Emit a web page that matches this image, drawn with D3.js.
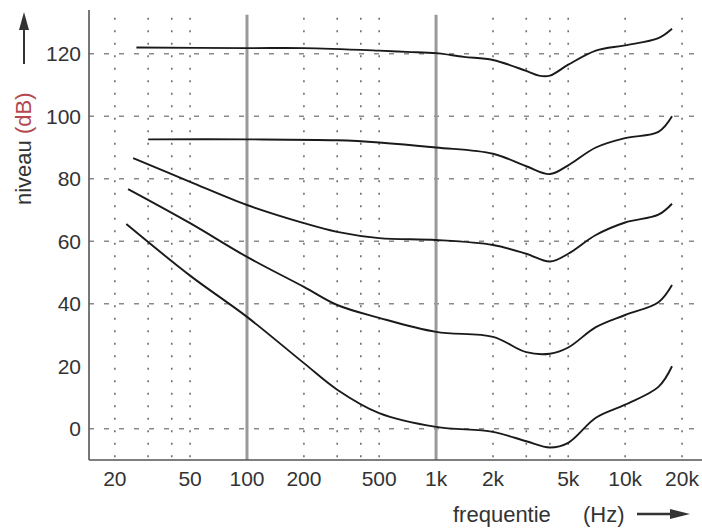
<!DOCTYPE html>
<html>
<head>
<meta charset="utf-8">
<script src="https://cdn.jsdelivr.net/npm/d3@7"></script>
<style>
  html, body { margin: 0; padding: 0; background: #fff; }
  svg { display: block; font-family: "Liberation Sans", Arial, sans-serif; }
</style>
</head>
<body>
<div id="chart"></div>
<script>
// equal-loudness contours
const freqTicks = [20, 50, 100, 200, 500, 1000, 2000, 5000, 10000, 20000];
const freqTickLabels = ['20', '50', '100', '200', '500', '1k', '2k', '5k', '10k', '20k'];
const dottedFreqs = [20, 30, 40, 50, 200, 300, 400, 500, 2000, 3000, 4000, 5000, 10000, 20000];
const solidFreqs = [100, 1000];
const levelTicks = [0, 20, 40, 60, 80, 100, 120];
const dashedLevels = [0, 40, 60, 80, 100, 120];

const curve120Freq = [26, 100, 200, 500, 700, 1000, 1400, 2000, 3000, 3500, 4000, 5000, 7000, 10000, 15000, 17700];
const curve120 = [122, 121.8, 121.8, 121, 120.6, 120.2, 119, 118, 114.5, 113, 113, 116.5, 121, 122.7, 125, 128];

const curve90Freq = [30, 100, 300, 500, 1000, 2000, 3000, 4000, 5000, 7000, 10000, 15000, 17700];
const curve90 = [92.6, 92.6, 92.3, 91.6, 90, 88, 84, 81.5, 84.3, 90, 93, 95, 100];

const curve60Freq = [25, 50, 100, 200, 300, 500, 1000, 2000, 3000, 4000, 5000, 7000, 10000, 15000, 17700];
const curve60 = [86.6, 79, 71.6, 65.8, 63, 61, 60.4, 58.8, 56, 53.5, 56, 62, 66, 68.5, 72];

const curve30Freq = [23.5, 50, 100, 200, 300, 500, 1000, 2000, 3000, 4000, 5000, 7000, 10000, 15000, 17700];
const curve30 = [76.7, 65.8, 55, 45.4, 39.6, 35.5, 31, 29.4, 24.5, 24, 26, 32.5, 36.4, 40.5, 46];

const curve0Freq = [23, 50, 100, 200, 300, 500, 1000, 2000, 3000, 4000, 5000, 7000, 10000, 15000, 17700];
const curve0 = [65.5, 49, 35.8, 21, 12.5, 5, 0.6, -1, -4, -6, -4.5, 3.5, 7.7, 13.4, 20];

const curves = [
  [curve120Freq, curve120],
  [curve90Freq, curve90],
  [curve60Freq, curve60],
  [curve30Freq, curve30],
  [curve0Freq, curve0]
];

const W = 702, H = 528;
const plot = { left: 89, right: 702, top: 10, bottom: 460 };

const svg = d3.select('#chart').append('svg')
  .attr('width', W)
  .attr('height', H)
  .attr('viewBox', [0, 0, W, H]);

const x = d3.scaleLog().domain([14.6, 25500]).range([plot.left, plot.right]);
const y = d3.scaleLinear().domain([-10, 134]).range([plot.bottom, plot.top]);
const gridTop = y(131.5);

// grid
const grid = svg.append('g');

grid.selectAll('line.hdash')
  .data(dashedLevels)
  .join('line')
  .attr('class', 'hdash')
  .attr('x1', plot.left).attr('x2', plot.right)
  .attr('y1', d => y(d)).attr('y2', d => y(d))
  .attr('stroke', '#8a8a8a')
  .attr('stroke-width', 1.3)
  .attr('stroke-dasharray', '5,10');

grid.selectAll('line.vdot')
  .data(dottedFreqs)
  .join('line')
  .attr('class', 'vdot')
  .attr('x1', d => x(d)).attr('x2', d => x(d))
  .attr('y1', gridTop).attr('y2', plot.bottom)
  .attr('stroke', '#6e6e6e')
  .attr('stroke-width', 1.6)
  .attr('stroke-dasharray', '2,10.5');

grid.selectAll('line.vsolid')
  .data(solidFreqs)
  .join('line')
  .attr('class', 'vsolid')
  .attr('x1', d => x(d)).attr('x2', d => x(d))
  .attr('y1', gridTop - 3).attr('y2', plot.bottom)
  .attr('stroke', '#9a9a9a')
  .attr('stroke-width', 3);

// axes lines
svg.append('line')
  .attr('x1', plot.left).attr('x2', plot.left)
  .attr('y1', plot.top).attr('y2', plot.bottom)
  .attr('stroke', '#555').attr('stroke-width', 1.6);
svg.append('line')
  .attr('x1', plot.left).attr('x2', plot.right)
  .attr('y1', plot.bottom).attr('y2', plot.bottom)
  .attr('stroke', '#555').attr('stroke-width', 1.6);

// tick labels
svg.append('g')
  .selectAll('text')
  .data(levelTicks)
  .join('text')
  .attr('x', 81)
  .attr('y', d => y(d))
  .attr('dy', '0.36em')
  .attr('text-anchor', 'end')
  .attr('font-size', 21)
  .attr('fill', '#333')
  .text(d => d);

svg.append('g')
  .selectAll('text')
  .data(freqTicks)
  .join('text')
  .attr('x', d => x(d))
  .attr('y', 486)
  .attr('text-anchor', 'middle')
  .attr('font-size', 21)
  .attr('fill', '#333')
  .text((d, i) => freqTickLabels[i]);

// contours
const line = d3.line()
  .x(d => x(d[0]))
  .y(d => y(d[1]))
  .curve(d3.curveCatmullRom.alpha(0.5));

svg.append('g')
  .selectAll('path')
  .data(curves)
  .join('path')
  .attr('d', c => line(c[0].map((f, i) => [f, c[1][i]])))
  .attr('fill', 'none')
  .attr('stroke', '#1a1a1a')
  .attr('stroke-width', 1.9);

// y label with arrow
const yl = svg.append('g').attr('transform', 'translate(31,205) rotate(-90)');
const ylt = yl.append('text')
  .attr('x', 0).attr('y', 0)
  .attr('font-size', 22)
  .attr('fill', '#333');
ylt.append('tspan').text('niveau ');
ylt.append('tspan').attr('fill', '#b5474f').text('(dB)');
svg.append('line')
  .attr('x1', 24).attr('x2', 24)
  .attr('y1', 64).attr('y2', 26)
  .attr('stroke', '#333').attr('stroke-width', 2);
svg.append('path')
  .attr('d', 'M24,12 L19,30 L29,30 Z')
  .attr('fill', '#333');

// x label with arrow
const xl = svg.append('text')
  .attr('x', 453).attr('y', 522)
  .attr('font-size', 22)
  .attr('fill', '#333');
xl.append('tspan').text('frequentie');
xl.append('tspan').attr('x', 583).text('(Hz)');
svg.append('line')
  .attr('x1', 637).attr('x2', 672)
  .attr('y1', 514).attr('y2', 514)
  .attr('stroke', '#333').attr('stroke-width', 2.5);
svg.append('path')
  .attr('d', 'M690,514 L670,509 L670,519 Z')
  .attr('fill', '#333');
</script>
</body>
</html>
